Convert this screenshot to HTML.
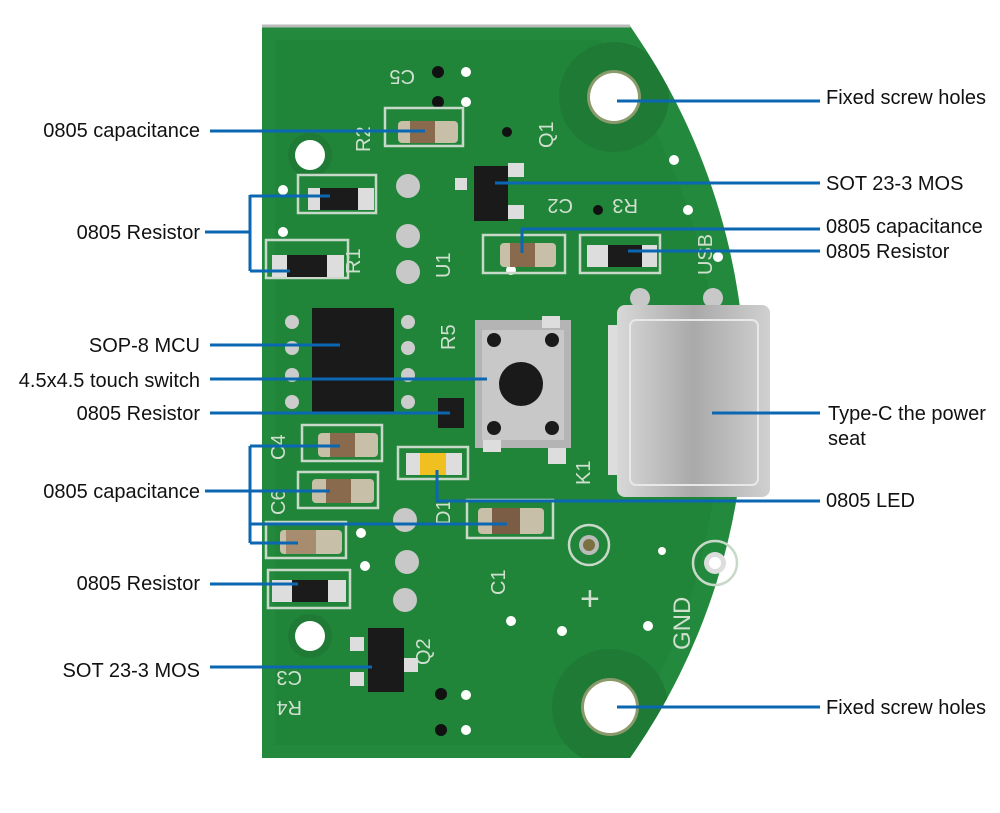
<!DOCTYPE html>
<html><head><meta charset="utf-8"><style>
html,body{margin:0;padding:0;background:#fff;}
svg{display:block}
text{font-family:"Liberation Sans","DejaVu Sans",sans-serif;font-size:20px;fill:#111;}
.sk{fill:none;stroke:#c9d9c9;stroke-width:2.5}
.bl{stroke:#0b67b2;stroke-width:3;fill:none}
.sil{font-size:20px;fill:#cfe0cf}
</style></head><body>
<svg width="1000" height="813" viewBox="0 0 1000 813">
<defs>
<linearGradient id="tc" x1="0" x2="1"><stop offset="0" stop-color="#d8d8d8"/><stop offset="0.5" stop-color="#a9a9a9"/><stop offset="1" stop-color="#d0d0d0"/></linearGradient>
<clipPath id="bd"><path d="M262 26 L630 26 A637 637 0 0 1 630 758 L262 758 Z"/></clipPath>
</defs>
<!-- board -->
<path d="M262 26 L630 26 A637 637 0 0 1 630 758 L262 758 Z" fill="#23893d"/>
<path d="M262 26 L630 26" stroke="#bbb" stroke-width="3"/>
<g clip-path="url(#bd)">
<path d="M275 40 L600 40 A620 620 0 0 1 620 745 L275 745 Z" fill="#208539"/>
<circle cx="614" cy="97" r="55" fill="#1e7a35"/>
<circle cx="610" cy="707" r="58" fill="#1e7a35"/>
</g>
<circle cx="614" cy="97" r="27" fill="#8a9a6a"/>
<circle cx="614" cy="97" r="24" fill="#fff"/>
<circle cx="610" cy="707" r="29" fill="#8a9a6a"/>
<circle cx="610" cy="707" r="26" fill="#fff"/>
<circle cx="310" cy="155" r="22" fill="#1e7a35"/><circle cx="310" cy="155" r="15" fill="#fff"/>
<circle cx="310" cy="636" r="22" fill="#1e7a35"/><circle cx="310" cy="636" r="15" fill="#fff"/>
<!-- vias -->
<g fill="#111"><circle cx="438" cy="72" r="6"/><circle cx="438" cy="102" r="6"/><circle cx="507" cy="132" r="5"/><circle cx="441" cy="694" r="6"/><circle cx="441" cy="730" r="6"/><circle cx="598" cy="210" r="5"/></g>
<g fill="#fff"><circle cx="466" cy="72" r="5"/><circle cx="466" cy="102" r="5"/><circle cx="283" cy="190" r="5"/><circle cx="283" cy="232" r="5"/><circle cx="688" cy="210" r="5"/><circle cx="718" cy="257" r="5"/><circle cx="674" cy="160" r="5"/><circle cx="511" cy="270" r="5"/><circle cx="361" cy="533" r="5"/><circle cx="365" cy="566" r="5"/><circle cx="511" cy="621" r="5"/><circle cx="562" cy="631" r="5"/><circle cx="648" cy="626" r="5"/><circle cx="466" cy="695" r="5"/><circle cx="466" cy="730" r="5"/><circle cx="662" cy="551" r="4"/></g>
<circle cx="589" cy="545" r="20" class="sk"/><circle cx="589" cy="545" r="10" fill="#bbb"/><circle cx="589" cy="545" r="6" fill="#7a7040"/>
<circle cx="715" cy="563" r="22" class="sk"/><circle cx="715" cy="563" r="11" fill="#ddd"/><circle cx="715" cy="563" r="6" fill="#fff"/>
<g fill="#c8c8c8"><circle cx="408" cy="186" r="12"/><circle cx="408" cy="236" r="12"/><circle cx="408" cy="272" r="12"/><circle cx="405" cy="520" r="12"/><circle cx="407" cy="562" r="12"/><circle cx="405" cy="600" r="12"/><circle cx="640" cy="298" r="10"/><circle cx="713" cy="298" r="10"/></g>
<!-- silkscreen text -->
<g class="sil">
<text x="375" y="90" class="sil" transform="rotate(180 395 80)">C5</text>
<text x="338" y="160" class="sil" transform="rotate(-90 350 140)">R2</text>
<text x="530" y="135" class="sil" transform="rotate(-90 548 130)">Q1</text>
<text x="533" y="215" class="sil" transform="rotate(180 553 207)">C2</text>
<text x="598" y="215" class="sil" transform="rotate(180 618 207)">R3</text>
<text x="685" y="262" class="sil" transform="rotate(-90 705 255)">USB</text>
<text x="348" y="262" class="sil" transform="rotate(-90 360 262)">R1</text>
<text x="430" y="278" class="sil" transform="rotate(-90 440 268)">U1</text>
<text x="440" y="345" class="sil" transform="rotate(-90 450 340)">R5</text>
<text x="265" y="440" class="sil" transform="rotate(-90 285 440)">C4</text>
<text x="265" y="495" class="sil" transform="rotate(-90 285 495)">C6</text>
<text x="425" y="520" class="sil" transform="rotate(-90 440 510)">D1</text>
<text x="565" y="480" class="sil" transform="rotate(-90 580 470)">K1</text>
<text x="490" y="580" class="sil" transform="rotate(-90 505 580)">C1</text>
<text x="410" y="655" class="sil" transform="rotate(-90 425 650)">Q2</text>
<text x="268" y="685" class="sil" transform="rotate(180 285 678)">C3</text>
<text x="268" y="715" class="sil" transform="rotate(180 285 708)">R4</text>
<text x="660" y="640" class="sil" transform="rotate(-90 680 630)" style="font-size:24px">GND</text>
<text x="580" y="610" class="sil" style="font-size:34px">+</text>
</g>
<g class="sk">
<rect x="385" y="108" width="78" height="38"/><rect x="298" y="175" width="78" height="38"/><rect x="266" y="240" width="82" height="38"/>
<rect x="483" y="235" width="82" height="38"/><rect x="580" y="235" width="80" height="38"/>
<rect x="302" y="425" width="80" height="36"/><rect x="298" y="472" width="80" height="36"/><rect x="266" y="522" width="80" height="36"/>
<rect x="268" y="570" width="82" height="38"/><rect x="467" y="500" width="86" height="38"/><rect x="398" y="447" width="70" height="32"/>
</g>
<g>
<rect x="398" y="121" width="60" height="22" rx="4" fill="#c7bfa8"/><rect x="410" y="121" width="25" height="22" fill="#8a6a4c"/>
<rect x="500" y="243" width="56" height="24" rx="4" fill="#c7bfa8"/><rect x="510" y="243" width="25" height="24" fill="#8a6a4c"/>
<rect x="318" y="433" width="60" height="24" rx="4" fill="#c7bfa8"/><rect x="330" y="433" width="25" height="24" fill="#8a6a4c"/>
<rect x="312" y="479" width="62" height="24" rx="4" fill="#c7bfa8"/><rect x="326" y="479" width="25" height="24" fill="#8a6a4c"/>
<rect x="280" y="530" width="62" height="24" rx="4" fill="#c7bfa8"/><rect x="286" y="530" width="30" height="24" fill="#a88c70"/>
<rect x="478" y="508" width="66" height="26" rx="4" fill="#c7bfa8"/><rect x="492" y="508" width="28" height="26" fill="#7b5c45"/>
</g>
<g>
<rect x="308" y="188" width="66" height="22" fill="#ddd"/><rect x="320" y="188" width="38" height="22" fill="#1b1b1b"/>
<rect x="272" y="255" width="72" height="22" fill="#ddd"/><rect x="287" y="255" width="40" height="22" fill="#1b1b1b"/>
<rect x="587" y="245" width="70" height="22" fill="#ddd"/><rect x="608" y="245" width="34" height="22" fill="#1b1b1b"/>
<rect x="272" y="580" width="74" height="22" fill="#ddd"/><rect x="292" y="580" width="36" height="22" fill="#1b1b1b"/>
<rect x="438" y="398" width="26" height="30" fill="#1b1b1b"/>
</g>
<rect x="455" y="178" width="12" height="12" fill="#ddd"/><rect x="508" y="163" width="16" height="14" fill="#ddd"/><rect x="508" y="205" width="16" height="14" fill="#ddd"/>
<rect x="474" y="166" width="34" height="55" fill="#1a1a1a"/>
<rect x="350" y="637" width="14" height="14" fill="#ddd"/><rect x="350" y="672" width="14" height="14" fill="#ddd"/><rect x="404" y="658" width="14" height="14" fill="#ddd"/>
<rect x="368" y="628" width="36" height="64" fill="#1a1a1a"/>
<g fill="#ccc"><circle cx="292" cy="322" r="7"/><circle cx="292" cy="348" r="7"/><circle cx="292" cy="375" r="7"/><circle cx="292" cy="402" r="7"/><circle cx="408" cy="322" r="7"/><circle cx="408" cy="348" r="7"/><circle cx="408" cy="375" r="7"/><circle cx="408" cy="402" r="7"/></g>
<rect x="312" y="308" width="82" height="106" fill="#1a1a1a"/>
<rect x="475" y="320" width="96" height="128" fill="#b4b4b4"/>
<rect x="482" y="330" width="82" height="110" fill="#c8c8c8"/>
<rect x="542" y="316" width="18" height="12" fill="#ddd"/><rect x="483" y="440" width="18" height="12" fill="#ddd"/><rect x="548" y="448" width="18" height="16" fill="#ddd"/>
<g fill="#1a1a1a"><circle cx="494" cy="340" r="7"/><circle cx="552" cy="340" r="7"/><circle cx="494" cy="428" r="7"/><circle cx="552" cy="428" r="7"/><circle cx="521" cy="384" r="22"/></g>
<rect x="406" y="453" width="56" height="22" fill="#ddd"/><rect x="420" y="453" width="26" height="22" fill="#f0c020"/>
<rect x="608" y="325" width="14" height="150" fill="#ddd"/>
<rect x="617" y="305" width="153" height="192" rx="8" fill="url(#tc)"/>
<rect x="630" y="320" width="128" height="165" rx="6" fill="none" stroke="#e8e8e8" stroke-width="2"/>
<g class="bl">
<path d="M617 101H820"/><path d="M210 131H425"/><path d="M495 183H820"/>
<path d="M205 232H250M250 195V271M250 196H330M250 271H290"/>
<path d="M522 253V229H820"/><path d="M628 251H820"/>
<path d="M210 345H340"/><path d="M210 379H487"/><path d="M210 413H450"/>
<path d="M712 413H820"/>
<path d="M205 491H250M250 446V543M250 446H340M250 491H330M250 524H507M250 543H298"/>
<path d="M437 470V501H820"/>
<path d="M210 584H298"/><path d="M210 667H372"/><path d="M617 707H820"/>
</g>
<g>
<text x="826" y="104">Fixed screw holes</text>
<text x="200" y="137" text-anchor="end">0805 capacitance</text>
<text x="826" y="190">SOT 23-3 MOS</text>
<text x="200" y="239" text-anchor="end">0805 Resistor</text>
<text x="826" y="233">0805 capacitance</text>
<text x="826" y="258">0805 Resistor</text>
<text x="200" y="352" text-anchor="end">SOP-8 MCU</text>
<text x="200" y="387" text-anchor="end">4.5x4.5 touch switch</text>
<text x="200" y="420" text-anchor="end">0805 Resistor</text>
<text x="828" y="420">Type-C the power</text>
<text x="828" y="445">seat</text>
<text x="200" y="498" text-anchor="end">0805 capacitance</text>
<text x="826" y="507">0805 LED</text>
<text x="200" y="590" text-anchor="end">0805 Resistor</text>
<text x="200" y="677" text-anchor="end">SOT 23-3 MOS</text>
<text x="826" y="714">Fixed screw holes</text>
</g>
</svg>
</body></html>
